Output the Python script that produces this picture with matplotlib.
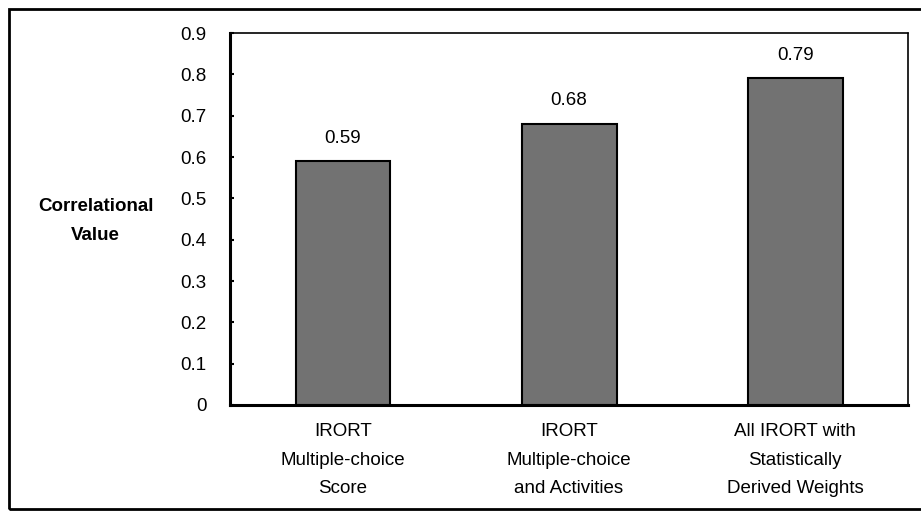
import numpy as np
import matplotlib
matplotlib.use("Agg")
from matplotlib import pyplot as plt
from matplotlib.patches import Rectangle

categories = ["IRORT\nMultiple-choice\nScore",
              "IRORT\nMultiple-choice\nand Activities",
              "All IRORT with\nStatistically\nDerived Weights"]
values = [0.59, 0.68, 0.79]
value_labels = ["0.59", "0.68", "0.79"]
y_ticks = [0, 0.1, 0.2, 0.3, 0.4, 0.5, 0.6, 0.7, 0.8, 0.9]
y_tick_labels = ["0", "0.1", "0.2", "0.3", "0.4", "0.5", "0.6", "0.7", "0.8", "0.9"]

plt.rcParams['font.family'] = ['Liberation Sans', 'DejaVu Sans']

fig = plt.figure(figsize=(9.21, 5.12), dpi=100)
ax = fig.add_axes([0.2497, 0.209, 0.7363, 0.7265])

x = np.arange(len(categories))
ax.bar(x, values, width=0.42, color='#727272', edgecolor='black', linewidth=1.5)

for xi, v, lab in zip(x, values, value_labels):
    ax.text(xi, v + 0.035, lab, ha='center', va='bottom', fontsize=13.5)

ax.set_xlim(-0.5, 2.5)
ax.set_ylim(0, 0.9)
ax.set_yticks(y_ticks)
ax.set_yticklabels(y_tick_labels, fontsize=13.5)
ax.set_xticks(x)
ax.set_xticklabels(categories, fontsize=13.5, linespacing=1.9)
ax.tick_params(axis='x', length=0, pad=13)
ax.tick_params(axis='y', direction='in', length=3, width=1.5, pad=17)

for s in ['left', 'bottom']:
    ax.spines[s].set_linewidth(2.2)
for s in ['top', 'right']:
    ax.spines[s].set_linewidth(1.2)
    ax.spines[s].set_linestyle((0, (1, 1)))

fig.text(0.104, 0.568, "Correlational\nValue", ha='center', va='center',
         fontsize=13.5, fontweight='bold', linespacing=1.9)

# outer frame (right edge runs off the page like the scan)
fig.patches.append(Rectangle((0.0095, 0.006), 1.0, 0.977, transform=fig.transFigure,
                             fill=False, edgecolor='black', linewidth=2))

fig.savefig("out.png", dpi=100)
